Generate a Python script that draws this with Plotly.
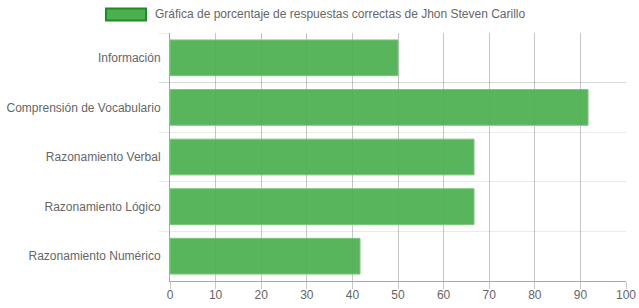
import plotly.graph_objects as go

categories = ["Información", "Comprensión de Vocabulario", "Razonamiento Verbal",
              "Razonamiento Lógico", "Razonamiento Numérico"]
values = [50, 91.67, 66.67, 66.67, 41.67]
legend_label = "Gráfica de porcentaje de respuestas correctas de Jhon Steven Carillo"

fig = go.Figure()
fig.add_trace(go.Bar(
    y=categories, x=values, orientation="h",
    width=0.72,
    marker=dict(color="rgba(76,175,80,0.93)", line=dict(color="rgba(120,200,120,1)", width=1)),
    showlegend=False, hoverinfo="x+y",
))

fig.update_layout(
    width=639, height=308,
    margin=dict(l=170, r=13, t=33, b=27, autoexpand=False),
    paper_bgcolor="white", plot_bgcolor="white",
    font=dict(family="Arial, Liberation Sans, sans-serif", size=12, color="#666"),
    xaxis=dict(
        range=[0, 100], dtick=10, tick0=0, automargin=False,
        showgrid=True, gridcolor="rgba(0,0,0,0.22)", gridwidth=1,
        ticks="outside", ticklen=7, tickcolor="rgba(0,0,0,0.22)",
        showline=True, linecolor="rgba(0,0,0,0.35)", linewidth=1,
        zeroline=False, tickfont=dict(size=12, color="#666"),
        ticklabelstandoff=-4,
        fixedrange=True,
    ),
    yaxis=dict(
        categoryorder="array", categoryarray=categories, autorange="reversed",
        automargin=False,
        tickson="boundaries", showgrid=True, gridcolor="rgba(0,0,0,0.08)",
        ticks="outside", ticklen=10, tickcolor="rgba(0,0,0,0.08)",
        showline=True, linecolor="rgba(0,0,0,0.35)", linewidth=1,
        tickfont=dict(size=12, color="#666"), ticklabelstandoff=6,
        fixedrange=True,
    ),
    shapes=[dict(type="rect", xref="paper", yref="paper",
                 x0=(106 - 170) / 456, x1=(146 - 170) / 456,
                 y0=(281 - 20.5) / 248, y1=(281 - 8.5) / 248,
                 fillcolor="#4CAF50", line=dict(color="#1E8C23", width=2))],
    annotations=[dict(text=legend_label, xref="paper", yref="paper",
                      x=(153 - 170) / 456, y=(281 - 14.5) / 248,
                      xanchor="left", yanchor="middle", showarrow=False,
                      font=dict(size=12, color="#666"))],
)

fig.write_html("out.html")
